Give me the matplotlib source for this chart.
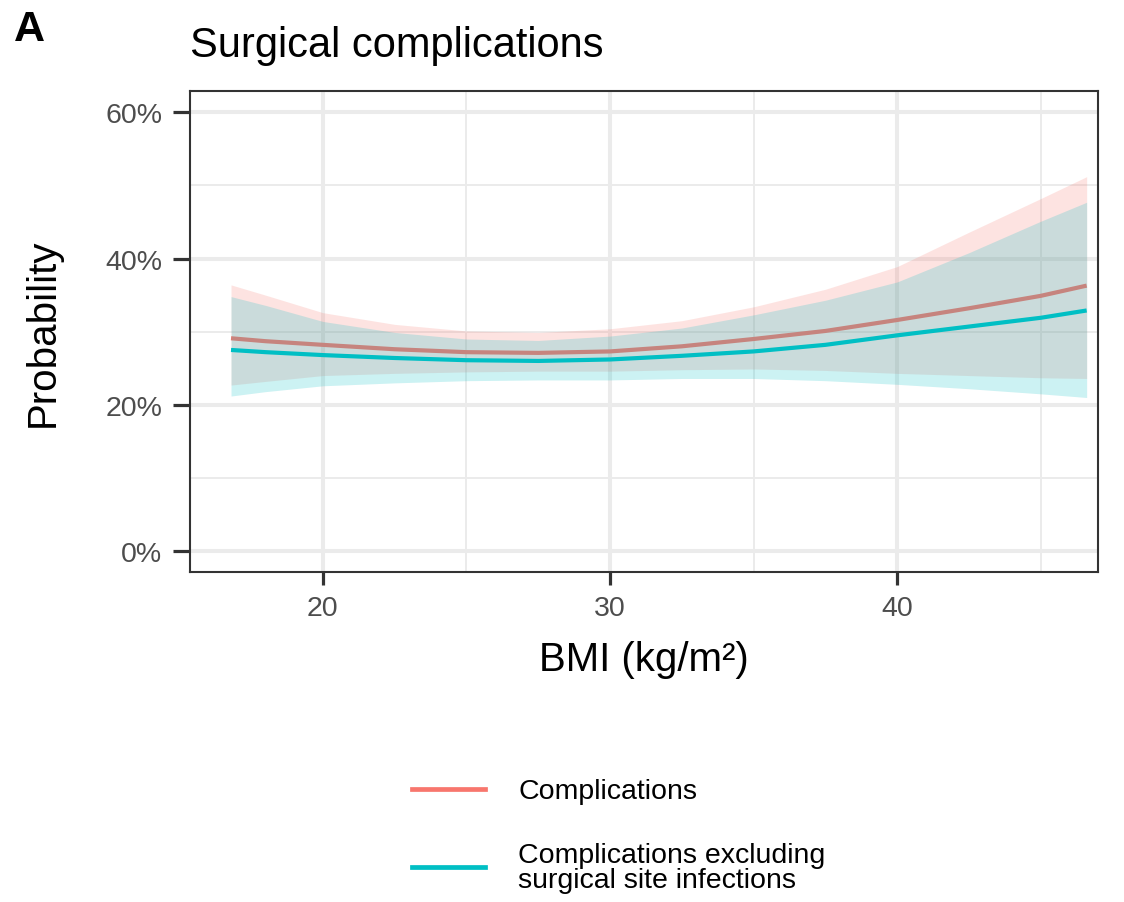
import numpy as np
import matplotlib
matplotlib.use("Agg")
import matplotlib.pyplot as plt
from matplotlib.lines import Line2D
from matplotlib.ticker import FuncFormatter, MultipleLocator

plt.rcParams['font.family'] = ['Liberation Sans', 'DejaVu Sans']

# values
bmi = [16.8, 18, 20, 22.5, 25, 27.5, 30, 32.5, 35, 37.5, 40, 42.5, 45, 46.6]

comp_fit = [29.1, 28.7, 28.2, 27.6, 27.2, 27.1, 27.3, 28.0, 29.0, 30.1, 31.6, 33.2, 34.9, 36.3]
comp_hi = [36.4, 35.0, 32.6, 31.0, 30.1, 29.9, 30.4, 31.5, 33.4, 35.8, 38.9, 43.6, 48.2, 51.2]
comp_lo = [22.7, 23.2, 24.0, 24.3, 24.5, 24.6, 24.6, 24.8, 24.9, 24.7, 24.3, 24.0, 23.7, 23.6]

nossi_fit = [27.5, 27.2, 26.8, 26.4, 26.1, 26.0, 26.2, 26.7, 27.3, 28.2, 29.5, 30.7, 31.9, 32.9]
nossi_hi = [34.8, 33.6, 31.4, 29.9, 29.0, 28.8, 29.4, 30.5, 32.3, 34.3, 36.8, 40.8, 45.1, 47.7]
nossi_lo = [21.2, 21.8, 22.6, 23.0, 23.3, 23.4, 23.4, 23.6, 23.6, 23.3, 22.8, 22.2, 21.5, 21.0]

labels = ['Complications', 'Complications excluding\nsurgical site infections']
colors = ['#F8766D', '#00BFC4']

x_ticks = [20, 30, 40]
y_ticks = [0, 20, 40, 60]

fig = plt.figure(figsize=(11.24, 9.03), dpi=100)
ax = fig.add_axes([0.169, 0.3654, 0.808, 0.5326])

series = [(comp_fit, comp_lo, comp_hi), (nossi_fit, nossi_lo, nossi_hi)]
z = 2
for (fit, lo, hi), col in zip(series, colors):
    ax.fill_between(bmi, lo, hi, color=col, alpha=0.2, linewidth=0, zorder=z)
    ax.plot(bmi, fit, color=col, lw=3.0, solid_capstyle='butt', zorder=z + 1)
    z += 2

ax.set_xlim(15.37, 47.0)
ax.set_ylim(-2.87, 62.9)
ax.set_xticks(x_ticks)
ax.set_yticks(y_ticks)
ax.xaxis.set_minor_locator(MultipleLocator(5))
ax.yaxis.set_minor_locator(MultipleLocator(10))
ax.yaxis.set_major_formatter(FuncFormatter(lambda v, p: '%d%%' % v))

ax.grid(which='major', color='#EBEBEB', lw=2.9, zorder=0)
ax.grid(which='minor', color='#EBEBEB', lw=1.4, zorder=0)
ax.set_axisbelow(True)

for s in ax.spines.values():
    s.set_color('#333333')
    s.set_linewidth(1.5)
    s.set_zorder(10)

ax.tick_params(which='major', width=2.3, color='#333333',
               labelsize=20.5, labelcolor='#4D4D4D')
ax.tick_params(axis='x', which='major', length=9.5, pad=7)
ax.tick_params(axis='y', which='major', length=12, pad=8)
ax.tick_params(which='minor', length=0)

ax.set_xlabel('BMI (kg/m²)', fontsize=29, labelpad=14)
ax.set_ylabel('Probability', fontsize=29)
ax.yaxis.set_label_coords(-0.141, 0.5)
ax.set_title('Surgical complications', fontsize=30, loc='left', pad=25)

fig.text(0.012, 0.955, 'A', fontsize=31, fontweight='bold', va='baseline')

# legend at the bottom, drawn by hand
leg_y = [0.1252, 0.0388]
text_y = [0.1152, 0.0166]   # baseline of the last line of each label
for lab, col, ly, ty in zip(labels, colors, leg_y, text_y):
    fig.add_artist(Line2D([0.3665, 0.4315], [ly, ly], color=col, lw=3.4,
                          transform=fig.transFigure))
    fig.text(0.461, ty, lab, fontsize=20.5, va='baseline', ha='left',
             linespacing=0.95)

fig.savefig('out.png', dpi=100)
